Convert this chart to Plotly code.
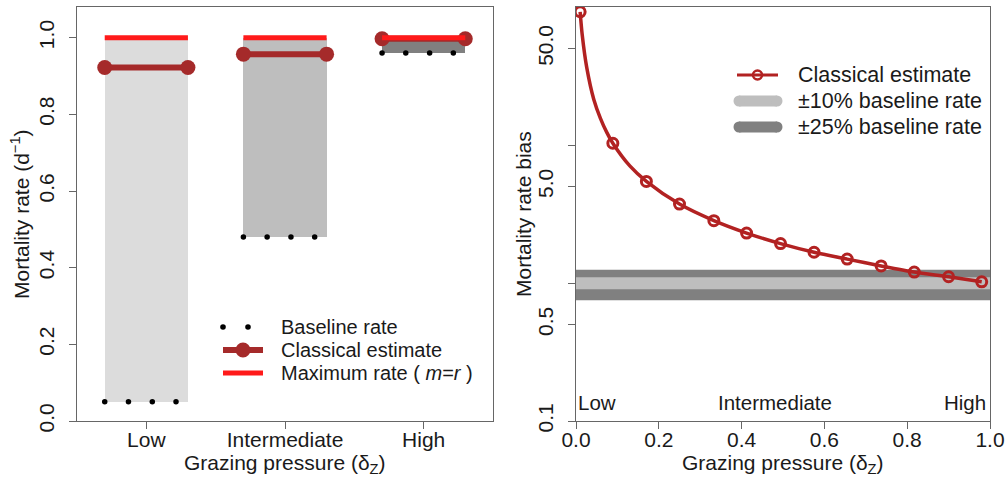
import plotly.graph_objects as go

# ---------------- data ----------------
categories = ["Low", "Intermediate", "High"]
baseline_rate = [0.05, 0.48, 0.96]
classical_estimate = [0.922, 0.957, 0.997]
maximum_rate = [1.0, 1.0, 1.0]
band_colors = ["#DCDCDC", "#BEBEBE", "#808080"]
dot_offsets = [-0.30, -0.129, 0.043, 0.214]

y1_ticks = [0.0, 0.2, 0.4, 0.6, 0.8, 1.0]
y1_ticktext = ["0.0", "0.2", "0.4", "0.6", "0.8", "1.0"]

# right panel: mortality rate bias vs grazing pressure
marker_x = [0.01, 0.089, 0.170, 0.250, 0.333, 0.412, 0.494, 0.575, 0.655, 0.737, 0.817, 0.900, 0.980]
marker_y = [92.3, 10.3, 5.45, 3.73, 2.83, 2.30, 1.93, 1.67, 1.49, 1.33, 1.20, 1.11, 1.02]
curve_x = [0.01, 0.015, 0.026, 0.043, 0.059, 0.074, 0.089, 0.130, 0.170, 0.250, 0.333, 0.412,
           0.494, 0.575, 0.655, 0.737, 0.817, 0.900, 0.980]
curve_y = [92.3, 63.0, 36.4, 21.4, 15.6, 12.4, 10.3, 7.05, 5.45, 3.73, 2.83, 2.30,
           1.93, 1.67, 1.49, 1.33, 1.20, 1.11, 1.02]
band25 = [0.75, 1.25]
band10 = [0.90, 1.10]
x2_ticks = [0.0, 0.2, 0.4, 0.6, 0.8, 1.0]
x2_ticktext = ["0.0", "0.2", "0.4", "0.6", "0.8", "1.0"]
y2_ticks = [0.1, 0.5, 5, 50]
y2_ticktext = ["0.1", "0.5", "5.0", "50.0"]
y2_minor_ticks = [1, 10]
pressure_marks = [0.05, 0.48, 0.96]

# ---------------- styles ----------------
W, H = 1006, 479
FONT = "Liberation Sans, Arial, Helvetica, sans-serif"
TXT = "#1a1a1a"
AX = "#666666"
BROWN = "#A52A2A"
FIRE = "#B22222"
RED = "#FF1A1A"
FS = 21

def px(x):
    return x / W

def py(y):
    return 1 - y / H

half = 0.3
fig = go.Figure()

# ---- left panel ----
cat_pos = [i + 1 for i in range(len(categories))]
fig.add_trace(go.Bar(
    x=cat_pos, y=[m - b for m, b in zip(maximum_rate, baseline_rate)], base=baseline_rate,
    width=2 * half, marker=dict(color=band_colors, line=dict(width=0)),
    showlegend=False, xaxis="x", yaxis="y"))

dx, dy = [], []
for c, b in zip(cat_pos, baseline_rate):
    for o in dot_offsets:
        dx.append(c + o)
        dy.append(b)
fig.add_trace(go.Scatter(x=dx, y=dy, mode="markers",
                         marker=dict(color="black", size=5.5), showlegend=False,
                         xaxis="x", yaxis="y"))

cx, cy, rx, ry = [], [], [], []
for c, ce, mr in zip(cat_pos, classical_estimate, maximum_rate):
    cx += [c - half, c + half, None]
    cy += [ce, ce, None]
    rx += [c - half, c + half, None]
    ry += [mr, mr, None]
fig.add_trace(go.Scatter(x=cx, y=cy, mode="lines+markers",
                         line=dict(color=BROWN, width=6),
                         marker=dict(color=BROWN, size=15),
                         showlegend=False, xaxis="x", yaxis="y"))
fig.add_trace(go.Scatter(x=rx, y=ry, mode="lines",
                         line=dict(color=RED, width=5),
                         showlegend=False, xaxis="x", yaxis="y"))

# ---- right panel ----
fig.add_trace(go.Scatter(x=[0, 1, 1, 0, 0], y=[band25[0], band25[0], band25[1], band25[1], band25[0]],
                         fill="toself", fillcolor="#808080", mode="lines", line=dict(width=0),
                         showlegend=False, xaxis="x2", yaxis="y2"))
fig.add_trace(go.Scatter(x=[0, 1, 1, 0, 0], y=[band10[0], band10[0], band10[1], band10[1], band10[0]],
                         fill="toself", fillcolor="#BEBEBE", mode="lines", line=dict(width=0),
                         showlegend=False, xaxis="x2", yaxis="y2"))
fig.add_trace(go.Scatter(x=curve_x, y=curve_y, mode="lines",
                         line=dict(color=FIRE, width=3.5, shape="spline", smoothing=0.8),
                         showlegend=False, xaxis="x2", yaxis="y2"))
fig.add_trace(go.Scatter(x=marker_x, y=marker_y, mode="markers",
                         marker=dict(symbol="circle-open", size=10, color=FIRE, line=dict(width=3, color=FIRE)),
                         showlegend=False, xaxis="x2", yaxis="y2"))

# ---------------- layout ----------------
dom_y = [py(421), py(7)]
axis_common = dict(showline=True, mirror=True, linecolor=AX, linewidth=1.2, automargin=False,
                   showgrid=False, zeroline=False, ticks="outside", ticklen=7,
                   tickcolor=AX, tickfont=dict(size=FS, color=TXT, family=FONT))
fig.update_layout(
    template="none",
    width=W, height=H, margin=dict(l=0, r=0, t=0, b=0, pad=0),
    paper_bgcolor="white", plot_bgcolor="white",
    font=dict(family=FONT, size=FS, color=TXT),
    showlegend=False, bargap=0,
    xaxis=dict(domain=[px(77), px(493)], range=[0.5, 3.5], tickvals=cat_pos,
               ticktext=categories, anchor="y", ticklabelstandoff=-7, **axis_common),
    yaxis=dict(domain=dom_y, range=[0, 1.08], tickvals=y1_ticks, ticktext=y1_ticktext,
               tickangle=-90, anchor="x", ticklabelstandoff=7, **axis_common),
    xaxis2=dict(domain=[px(576), px(990)], range=[0, 1], tickvals=x2_ticks,
                ticktext=x2_ticktext, anchor="y2", ticklabelstandoff=-7, **axis_common),
    yaxis2=dict(domain=dom_y, type="log", range=[-1, 2], tickvals=y2_ticks,
                ticktext=y2_ticktext, tickangle=-90, anchor="x2", ticklabelstandoff=7,
                minor=dict(tickvals=y2_minor_ticks, ticks="outside", ticklen=7, tickcolor=AX,
                           showgrid=False),
                **axis_common),
    xaxis3=dict(overlaying="x2", anchor="y2", range=[0, 1], tickvals=pressure_marks,
                ticks="inside", ticklen=5, tickcolor=AX, showticklabels=False, automargin=False,
                showline=False, showgrid=False, zeroline=False, side="bottom"),
)

ann = []
def text(t, x, y, size, xref="paper", xanchor="center", angle=0):
    ann.append(dict(text=t, x=x if xref != "paper" else px(x), y=py(y), xref=xref, yref="paper",
                    xanchor=xanchor, yanchor="middle", textangle=angle, showarrow=False,
                    font=dict(size=size, family=FONT, color=TXT)))

# axis titles
text("Mortality rate (d<sup>−1</sup>)", 20, 214, FS, angle=-90)
text("Mortality rate bias", 523, 214, FS, angle=-90)
text("Grazing pressure (δ<sub>Z</sub>)", 285, 464, FS)
text("Grazing pressure (δ<sub>Z</sub>)", 783, 464, FS)
# in-panel pressure labels (right)
text("Low", pressure_marks[0], 402, FS - 0.5, xref="x2")
text("Intermediate", pressure_marks[1], 402, FS - 0.5, xref="x2")
text("High", 988, 402, FS - 0.5, xanchor="right")

# legend texts
LFS = 20
for t, yy in [("Baseline rate", 327), ("Classical estimate", 350),
              ("Maximum rate ( <i>m</i>=<i>r</i> )", 373)]:
    text(t, 279, yy, LFS, xanchor="left")
RFS = 21.5
for t, yy in [("Classical estimate", 75), ("±10% baseline rate", 101), ("±25% baseline rate", 127)]:
    text(t, 796, yy, RFS, xanchor="left")

shapes = []
def dot(x, y, r, fill, lc=None, lw=0):
    shapes.append(dict(type="circle", xref="paper", yref="paper", xsizemode="pixel", ysizemode="pixel",
                       xanchor=px(x), yanchor=py(y), x0=-r, x1=r, y0=-r, y1=r,
                       fillcolor=fill, line=dict(color=lc or fill, width=lw)))

def hline(x0, x1, y, color, w):
    shapes.append(dict(type="line", xref="paper", yref="paper", x0=px(x0), x1=px(x1),
                       y0=py(y), y1=py(y), line=dict(color=color, width=w)))

# left legend glyphs
dot(223, 327, 2.8, "black")
dot(248, 327, 2.8, "black")
hline(223, 263, 350, BROWN, 6)
dot(243, 350, 7.5, BROWN)
hline(223, 263, 373, RED, 5)
# right legend glyphs
hline(737, 778, 75, FIRE, 3)
dot(757.5, 75, 4.5, "rgba(0,0,0,0)", FIRE, 2.5)
for yy, col in [(101, "#BEBEBE"), (127, "#808080")]:
    hline(739, 777, yy, col, 11)
    dot(739, yy, 5.5, col)
    dot(777, yy, 5.5, col)

fig.update_layout(annotations=ann, shapes=shapes)
fig.write_html("out.html", config={"displayModeBar": False},
               post_script="document.body.style.margin='0px';")
